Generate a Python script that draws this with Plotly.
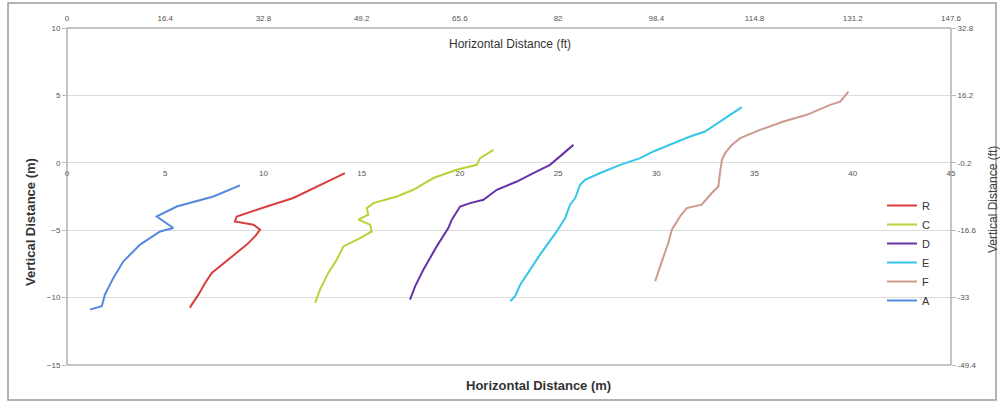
import plotly.graph_objects as go

# ---- data (metres) ----
R_x = [14.15, 12.88, 11.52, 10.17, 8.64, 8.55, 9.49, 9.83, 9.57, 9.15, 8.30, 7.37, 7.03, 6.69, 6.35, 6.26]
R_y = [-0.76, -1.63, -2.61, -3.24, -3.98, -4.35, -4.59, -4.96, -5.46, -6.07, -7.06, -8.17, -8.91, -9.78, -10.52, -10.76]

C_x = [21.71, 21.03, 20.86, 19.84, 18.65, 17.63, 16.79, 15.60, 15.26, 15.34, 14.83, 15.43, 15.51, 14.92, 14.07, 13.73, 13.30, 12.88, 12.63]
C_y = [0.96, 0.35, -0.15, -0.52, -1.13, -2.00, -2.50, -2.99, -3.36, -3.85, -4.22, -4.59, -5.09, -5.58, -6.20, -7.19, -8.17, -9.41, -10.39]

D_x = [25.78, 25.27, 24.59, 23.74, 22.90, 21.88, 21.20, 20.52, 20.01, 19.59, 19.41, 18.82, 18.14, 17.72, 17.46]
D_y = [1.33, 0.72, -0.15, -0.76, -1.39, -2.00, -2.74, -2.99, -3.24, -4.22, -4.84, -6.20, -7.93, -9.16, -10.15]

E_x = [34.35, 33.76, 33.25, 32.48, 31.72, 30.87, 29.85, 29.18, 28.16, 27.14, 26.37, 26.12, 25.87, 25.61, 25.36, 24.93, 24.08, 23.07, 22.81, 22.56]
E_y = [4.13, 3.56, 3.06, 2.32, 1.95, 1.46, 0.84, 0.35, -0.15, -0.76, -1.26, -1.63, -2.61, -3.11, -4.10, -5.09, -6.81, -9.04, -9.90, -10.27]

F_x = [39.78, 39.36, 38.85, 37.66, 36.47, 35.28, 34.27, 33.84, 33.50, 33.34, 33.25, 33.16, 32.82, 32.31, 31.55, 31.21, 30.79, 30.61, 30.28, 29.94]
F_y = [5.28, 4.54, 4.30, 3.56, 3.06, 2.44, 1.83, 1.33, 0.72, 0.22, -0.64, -1.76, -2.24, -3.11, -3.36, -3.98, -4.96, -5.95, -7.31, -8.79]

A_x = [8.81, 7.45, 5.59, 4.57, 5.41, 4.74, 3.72, 2.87, 2.36, 1.93, 1.77, 1.43, 1.17]
A_y = [-1.68, -2.50, -3.24, -3.98, -4.84, -5.09, -6.07, -7.31, -8.54, -9.78, -10.64, -10.81, -10.89]

series_names = ["R", "C", "D", "E", "F", "A"]
series_x = [R_x, C_x, D_x, E_x, F_x, A_x]
series_y = [R_y, C_y, D_y, E_y, F_y, A_y]
colors = ["#d93f3f", "#b6d338", "#6633a8", "#35c6e8", "#cc9a8e", "#5488e0"]

# ---- ticks ----
x_m_ticks = [0, 5, 10, 15, 20, 25, 30, 35, 40, 45]
x_ft_labels = ["0", "16.4", "32.8", "49.2", "65.6", "82", "98.4", "114.8", "131.2", "147.6"]
y_m_ticks = [-15, -10, -5, 0, 5, 10]
y_ft_labels = ["-49.4", "-33", "-16.6", "-0.2", "16.2", "32.8"]

FONT = "Liberation Sans, Arial, sans-serif"
tickfont = dict(family=FONT, size=8, color="#555")

fig = go.Figure()
for name, xs, ys, c in zip(series_names, series_x, series_y, colors):
    fig.add_trace(go.Scatter(x=xs, y=ys, mode="lines", name=name,
                             line=dict(color=c, width=2)))
# helper trace so the secondary axes are drawn
fig.add_trace(go.Scatter(x=[None], y=[None], xaxis="x2", yaxis="y2",
                         showlegend=False, hoverinfo="skip"))

L, R, T, B = 67, 52, 28, 40
W, H = 1003, 405
pw, ph = W - L - R, H - T - B

def px(xp):
    return (xp - L) / pw

def py(yp):
    return (H - B - yp) / ph

fig.update_layout(
    width=W, height=H,
    margin=dict(l=L, r=R, t=T, b=B),
    paper_bgcolor="white", plot_bgcolor="white",
    font=dict(family=FONT, color="#333"),
    showlegend=True,
    legend=dict(x=px(882), y=py(191), xanchor="left", yanchor="top",
                bgcolor="rgba(0,0,0,0)", font=dict(size=11, family=FONT, color="#333"),
                tracegroupgap=0, itemwidth=30),
    xaxis=dict(range=[0, 45], tickvals=x_m_ticks, anchor="free", position=0.6,
               showgrid=False, zeroline=False, showline=False, ticks="",
               tickfont=tickfont, ticklabelstandoff=4),
    xaxis2=dict(range=[0, 45], tickvals=x_m_ticks, ticktext=x_ft_labels,
                overlaying="x", side="top", anchor="y",
                showgrid=False, zeroline=False, showline=False, ticks="",
                tickfont=tickfont, ticklabelstandoff=4),
    yaxis=dict(range=[-15, 10], tickvals=y_m_ticks, showgrid=True,
               gridcolor="#dcdcdc", gridwidth=1, zeroline=False,
               showline=False, ticks="outside", ticklen=4, tickcolor="#bbb",
               tickfont=tickfont),
    yaxis2=dict(range=[-15, 10], tickvals=y_m_ticks, ticktext=y_ft_labels,
                overlaying="y", side="right", anchor="x",
                showgrid=False, zeroline=False, showline=False,
                ticks="outside", ticklen=4, tickcolor="#bbb", tickfont=tickfont),
)

# plot frame and outer frame
fig.add_shape(type="rect", xref="paper", yref="paper", x0=0, x1=1, y0=0, y1=1,
              line=dict(color="#8a8a8a", width=1), layer="above")
fig.add_shape(type="rect", xref="paper", yref="paper",
              x0=px(8), x1=px(996), y0=py(400), y1=py(3),
              line=dict(color="#9a9a9a", width=1.5), layer="below")

# titles
ann = dict(xref="paper", yref="paper", showarrow=False, xanchor="center", yanchor="middle")
fig.add_annotation(text="Horizontal Distance (ft)", x=px(510), y=py(44),
                   font=dict(family=FONT, size=12, color="#333"), **ann)
fig.add_annotation(text="<b>Horizontal Distance (m)</b>", x=px(538), y=py(385),
                   font=dict(family=FONT, size=13, color="#333"), **ann)
fig.add_annotation(text="<b>Vertical Distance (m)</b>", x=px(30), y=py(222), textangle=-90,
                   font=dict(family=FONT, size=13, color="#333"), **ann)
fig.add_annotation(text="Vertical Distance (ft)", x=px(993), y=py(200), textangle=-90,
                   font=dict(family=FONT, size=12, color="#444"), **ann)

fig.write_html("out.html", config={"displayModeBar": False},
               post_script="document.body.style.margin='0';document.body.style.overflow='hidden';")
